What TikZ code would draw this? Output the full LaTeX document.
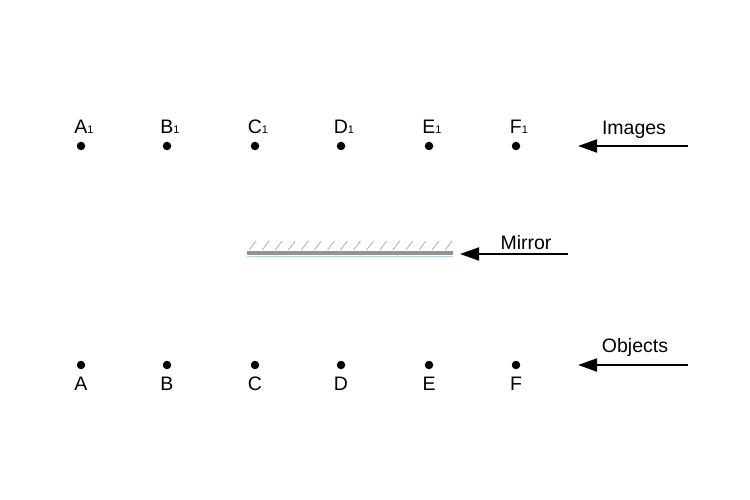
\documentclass[tikz,border=0pt]{standalone}
\usepackage{fontspec}
\setmainfont{Liberation Sans}
\usetikzlibrary{arrows.meta}
\begin{document}
\begin{tikzpicture}[x=1pt,y=-1pt,
  dotnode/.style={circle,fill=black,inner sep=0pt,minimum size=8.5pt},
  lbl/.style={inner sep=0pt,font=\fontsize{19.5}{22}\selectfont},
  ptr/.style={line width=1.8pt,-{Triangle[length=19pt,width=13pt]}},
  hatch/.style={gray!70,line width=0.7pt}]
\useasboundingbox (0,0) rectangle (750,500);
% image points
\foreach \n/\x in {A/81,B/167,C/255,D/341,E/429,F/516}{
  \node[dotnode] (\n1) at (\x,146) {};
  \node[lbl,anchor=base] (\n1l) at (\x+3,134) {\n\raisebox{0pt}{\fontsize{11}{11}\selectfont 1}};
  \node[dotnode] (\n) at (\x,365) {};
  \node[lbl,anchor=base] (\n l) at (\x,390) {\n};
}
% mirror
\fill[gray!85] (247,251) rectangle (453,255);
\draw[cyan!40,line width=1.2pt] (247,256.2) -- (453,256.2);
\foreach \i in {0,...,15}{
  \draw[hatch] (249+\i*13.07,250) -- (256+\i*13.07,241);
}
% labels and arrows
\node[lbl,anchor=base] (imgl) at (634,135) {Images};
\coordinate (imgs) at (688,146);
\coordinate (imge) at (578,146);
\draw[ptr] (imgs) -- (imge);
\node[lbl,anchor=base] (mirl) at (526,249) {Mirror};
\coordinate (mirs) at (568,254);
\coordinate (mire) at (460,254);
\draw[ptr] (mirs) -- (mire);
\node[lbl,anchor=base] (objl) at (635,352) {Objects};
\coordinate (objs) at (688,365);
\coordinate (obje) at (578,365);
\draw[ptr] (objs) -- (obje);
\end{tikzpicture}
\end{document}
